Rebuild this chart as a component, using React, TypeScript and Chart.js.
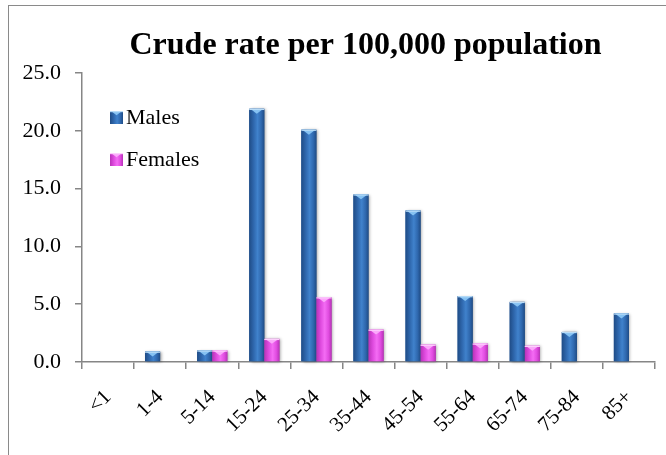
import React, { useEffect, useRef } from "react";
import { Chart, registerables } from "chart.js";

Chart.register(...registerables);

const categories = ["<1", "1-4", "5-14", "15-24", "25-34", "35-44", "45-54", "55-64", "65-74", "75-84", "85+"];
const males = [0, 0.9, 1.0, 21.9, 20.1, 14.5, 13.1, 5.7, 5.2, 2.6, 4.2];
const females = [0, 0, 1.0, 2.0, 5.6, 2.8, 1.5, 1.6, 1.4, 0, 0];
const seriesNames = ["Males", "Females"];
const titleText = "Crude rate per 100,000 population";
const yMin = 0;
const yMax = 25;
const yStep = 5;

const FONT = "'Liberation Serif', 'Times New Roman', serif";
const AXIS = "#868686";

const palettes = [
  { edge: "#1f4c86", mid: "#2f68ae", light: "#4082cc", cap: "#86c2f2", capEdge: "#b9dcf7" },
  { edge: "#b832b8", mid: "#e04ce0", light: "#f46cf4", cap: "#fba8fb", capEdge: "#fdd0fd" },
];

function paintBar(ctx: CanvasRenderingContext2D, left: number, top: number, w: number, h: number, p: any, shadow: boolean) {
  if (h <= 0.5 || w <= 0) return;
  ctx.save();
  const g = ctx.createLinearGradient(left, 0, left + w, 0);
  g.addColorStop(0, p.edge);
  g.addColorStop(0.3, p.mid);
  g.addColorStop(0.55, p.light);
  g.addColorStop(0.8, p.mid);
  g.addColorStop(1, p.edge);
  if (shadow) {
    ctx.shadowColor = "rgba(0,0,0,0.35)";
    ctx.shadowBlur = 3;
    ctx.shadowOffsetX = 1.5;
    ctx.shadowOffsetY = 0.5;
  }
  ctx.fillStyle = g;
  ctx.fillRect(left, top, w, h);
  ctx.restore();
  ctx.save();
  const capH = Math.min(h, Math.max(3, w * 0.33));
  ctx.beginPath();
  ctx.moveTo(left + 1, top);
  ctx.lineTo(left + w - 1, top);
  ctx.lineTo(left + w / 2, top + capH);
  ctx.closePath();
  ctx.fillStyle = p.cap;
  ctx.fill();
  ctx.fillStyle = p.capEdge;
  ctx.fillRect(left, top, w, 1.2);
  ctx.restore();
}

const barPainter = {
  id: "barPainter",
  afterDatasetsDraw(chart: any) {
    const ctx = chart.ctx;
    chart.data.datasets.forEach((ds: any, di: number) => {
      const meta = chart.getDatasetMeta(di);
      meta.data.forEach((el: any, i: number) => {
        const v = ds.data[i];
        if (!v) return;
        const { x, y, base, width } = el.getProps(["x", "y", "base", "width"], true);
        paintBar(ctx, x - width / 2, y, width, base - y, palettes[di], true);
      });
    });
  },
};

const titleAndLegend = {
  id: "titleAndLegend",
  afterDraw(chart: any) {
    const ctx = chart.ctx;
    const area = chart.chartArea;
    ctx.save();
    ctx.fillStyle = "#000";
    ctx.font = `bold 32px ${FONT}`;
    ctx.textAlign = "center";
    ctx.textBaseline = "alphabetic";
    ctx.fillText(titleText, (area.left + area.right) / 2 - 3, 54);
    ctx.restore();

    chart.data.datasets.forEach((ds: any, di: number) => {
      const bx = area.left + 28;
      const by = area.top + 38 + di * 42;
      paintBar(ctx, bx, by, 13, 13, palettes[di], false);
      ctx.save();
      ctx.fillStyle = "#000";
      ctx.font = `22px ${FONT}`;
      ctx.textAlign = "left";
      ctx.textBaseline = "alphabetic";
      ctx.fillText(ds.label, bx + 16, by + 13);
      ctx.restore();
    });
  },
};

export default function App() {
  const ref = useRef<HTMLCanvasElement | null>(null);
  useEffect(() => {
    if (!ref.current) return;
    const chart = new Chart(ref.current, {
      type: "bar",
      data: {
        labels: categories,
        datasets: [
          { label: seriesNames[0], data: males, backgroundColor: palettes[0].mid, borderWidth: 0 },
          { label: seriesNames[1], data: females, backgroundColor: palettes[1].mid, borderWidth: 0 },
        ],
      },
      options: {
        responsive: false,
        animation: false,
        devicePixelRatio: 1,
        layout: { padding: { top: 73, right: 11, left: 0, bottom: 0 } },
        datasets: { bar: { categoryPercentage: 0.58, barPercentage: 1.0 } },
        plugins: {
          legend: { display: false },
          title: { display: false },
          tooltip: { enabled: false },
        },
        scales: {
          x: {
            grid: { offset: true, drawOnChartArea: false, drawTicks: true, tickLength: 7, color: AXIS, lineWidth: 1.5 },
            border: { display: true, color: AXIS, width: 1.5 },
            ticks: {
              color: "#000",
              font: { family: FONT, size: 21 },
              maxRotation: 45,
              minRotation: 45,
              padding: 16,
              autoSkip: false,
            },
            afterFit: (s: any) => {
              s.height = 93;
            },
          },
          y: {
            min: yMin,
            max: yMax,
            grid: { drawOnChartArea: false, drawTicks: true, tickLength: 7, color: AXIS, lineWidth: 1.5 },
            border: { display: true, color: AXIS, width: 1.5 },
            ticks: {
              stepSize: yStep,
              color: "#000",
              font: { family: FONT, size: 22 },
              padding: 14,
              callback: (v: any) => Number(v).toFixed(1),
            },
            afterFit: (s: any) => {
              s.width = 82;
            },
          },
        },
      },
      plugins: [barPainter, titleAndLegend],
    });
    return () => chart.destroy();
  }, []);

  return (
    <div style={{ position: "fixed", left: 0, top: 0, width: 666, height: 455, overflow: "hidden", background: "#fff" }}>
      <div
        style={{
          position: "absolute",
          left: 8,
          top: 5,
          width: 800,
          height: 600,
          borderLeft: "1.5px solid #8a8a8a",
          borderTop: "1.5px solid #8a8a8a",
        }}
      />
      <canvas ref={ref} width={666} height={455} style={{ position: "absolute", left: 0, top: 0, width: 666, height: 455 }} />
    </div>
  );
}
